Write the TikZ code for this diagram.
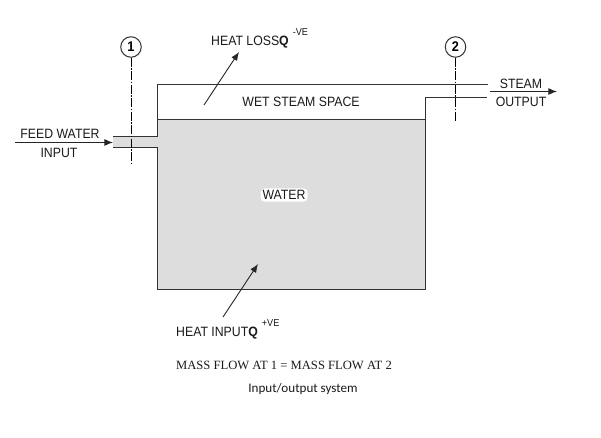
\documentclass[tikz,border=0pt]{standalone}
\usepackage{fontspec}
\setmainfont[FakeStretch=0.91]{Liberation Sans}
\newfontfamily\serifcap{Liberation Serif}
\newfontfamily\captionfont{Carlito}
\usetikzlibrary{arrows.meta,positioning,calc}
\definecolor{inkline}{HTML}{333333}
\definecolor{watergray}{HTML}{DEDDDE}
\definecolor{textgray}{HTML}{1A1A1A}
\tikzset{
  vesselline/.style={draw=inkline, line width=1pt},
  flowarrow/.style={-{Latex[length=3.0mm,width=2.4mm]}, line width=0.9pt, draw=black!85},
  sectionline/.style={draw=black, line width=1pt, dash pattern=on 9pt off 1.5pt on 1.5pt off 1.5pt},
  sectionmark/.style={circle, draw=inkline, line width=1pt, fill=white, minimum size=20.5pt, inner sep=0pt, font=\fontsize{14}{15}\selectfont\bfseries},
  flowlabel/.style={inner sep=0pt, text=textgray, font=\fontsize{13.5}{16}\selectfont}
}
\begin{document}
\begin{tikzpicture}[x=1pt,y=-1pt]
\useasboundingbox (0,0) rectangle (601,438);
\fill[white] (0,0) rectangle (601,438);
% water and feed pipe
\fill[watergray] (157,120) rectangle (425,289);
\fill[watergray] (113,137) rectangle (157,148);
% vessel outline
\draw[vesselline] (113,137) -- (157,137) -- (157,85) -- (488,85);
\draw[vesselline] (113,148) -- (157,148) -- (157,289) -- (425,289) -- (425,98) -- (487,98);
\draw[vesselline] (157,120) -- (425,120);

\node[sectionmark] (markone) at (131,47) {1};
\node[sectionmark] (marktwo) at (455.5,47) {2};
\coordinate (oneend) at (131,165);
\coordinate (twoend) at (455.5,122);
\draw[sectionline] (markone) -- (oneend);
\draw[sectionline, line width=0.8pt] (marktwo) -- (twoend);

\node[flowlabel] (feed) at (60,134) {FEED WATER};
\node[flowlabel] (input) at (59,153) {INPUT};
\node[flowlabel] (steam) at (521,84) {STEAM};
\node[flowlabel] (output) at (521,102) {OUTPUT};
\node[flowlabel] (wet) at (301,102) {WET STEAM SPACE};
\node[flowlabel, fill=white, rounded corners=4pt, inner sep=2pt] (water) at (284,195) {WATER};
\node[flowlabel, anchor=west] (loss) at (211,38.5) {HEAT LOSS\textbf{Q}\raisebox{10pt}{\hspace{4pt}\fontsize{10}{11}\selectfont -VE}};
\node[flowlabel, anchor=west] (gain) at (176,329.5) {HEAT INPUT\textbf{Q}\raisebox{10pt}{\hspace{4pt}\fontsize{10}{11}\selectfont +VE}};
\node[inner sep=0pt, text=textgray, font=\fontsize{12.6}{15}\selectfont\serifcap] (mass) at (284,365) {MASS FLOW AT 1 = MASS FLOW AT 2};
\node[inner sep=0pt, text=textgray, font=\fontsize{13.1}{15}\selectfont\captionfont] (title) at (303,389) {Input/output system};

\coordinate (feedin) at (15,142.5);
\coordinate (feedtip) at (113,142.5);
\coordinate (steamin) at (490,91.5);
\coordinate (steamtip) at (557,91.5);
\coordinate (lossin) at (204,105);
\coordinate (losstip) at (239,52);
\coordinate (gainin) at (223,317);
\coordinate (gaintip) at (258,264);
\draw[flowarrow] (feedin) -- (feedtip);
\draw[flowarrow] (steamin) -- (steamtip);
\draw[flowarrow] (lossin) -- (losstip);
\draw[flowarrow] (gainin) -- (gaintip);
\end{tikzpicture}
\end{document}
